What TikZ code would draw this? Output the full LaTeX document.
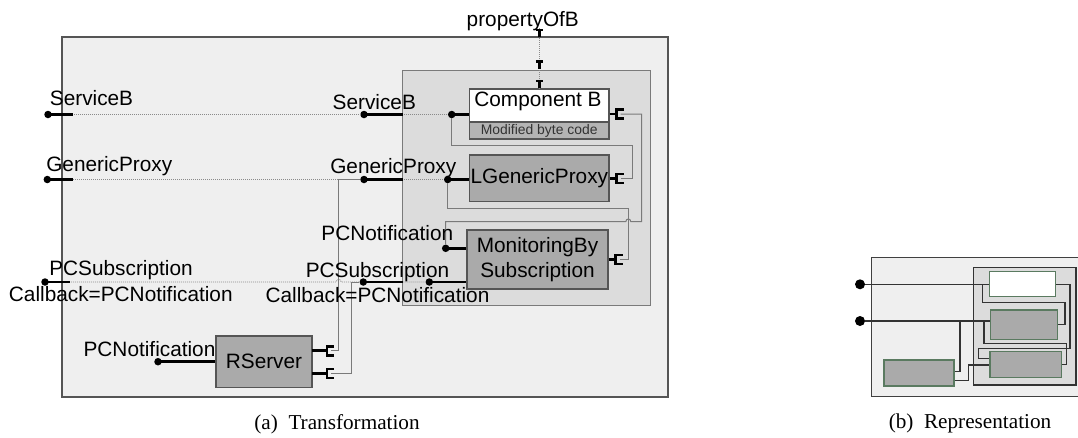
\documentclass[tikz,border=0pt]{standalone}
\usepackage{fontspec}
\setmainfont{Liberation Sans}
\newfontfamily\capfont{Liberation Serif}
\definecolor{outerfill}{HTML}{EFEFEF}
\definecolor{innerfill}{HTML}{DCDCDC}
\definecolor{boxfill}{HTML}{AAAAAA}
\definecolor{bandfill}{HTML}{B4B4B4}
\definecolor{edge}{HTML}{555555}
\definecolor{wirec}{HTML}{7A7A7A}
\definecolor{dotc}{HTML}{8A8A8A}
\definecolor{greenedge}{HTML}{5A7A60}
\definecolor{bwirec}{HTML}{333333}
\begin{document}
\begin{tikzpicture}[x=1pt,y=-1pt,
  lbl/.style={font=\fontsize{20.8}{25}\selectfont, inner sep=0pt, anchor=base},
  caplbl/.style={font=\capfont\fontsize{21.2}{24}\selectfont, inner sep=0pt, anchor=base},
  outerbox/.style={draw=edge, fill=outerfill, line width=1.2pt},
  innerbox/.style={draw=wirec, fill=innerfill, line width=1pt},
  comp/.style={draw=edge, fill=boxfill, line width=1.2pt, inner sep=0pt,
     font=\fontsize{20.8}{25}\selectfont, align=center},
  band/.style={draw=edge, fill=bandfill, line width=1.2pt, inner sep=0pt,
     font=\fontsize{13.9}{16}\selectfont, text=black!80},
  stub/.style={draw=black, line width=2.6pt},
  wire/.style={draw=wirec, line width=1pt},
  dotline/.style={draw=dotc, line width=0.8pt, dash pattern=on 1pt off 1pt},
  sock/.style={circle, fill=black, inner sep=0pt, minimum size=7.5pt},
  bsock/.style={circle, fill=black, inner sep=0pt, minimum size=10pt},
  bbox/.style={draw=greenedge, fill=boxfill, line width=1.3pt, inner sep=0pt},
  bwire/.style={draw=bwirec, line width=1.4pt},
  pics/recept/.style={code={
     \draw[stub] (0,0) -- (#1+1,0);
     \draw[stub] (#1+7,-4.5) -- (#1,-4.5) -- (#1,4.5) -- (#1+7,4.5);
     \coordinate (-end) at (#1+4,0);
  }},
  pics/tprop/.style={code={
     \draw[line width=2.6pt] (-3.4,0) -- (3.4,0);
     \draw[line width=2.6pt] (0,0) -- (0,7);
  }}
]
\useasboundingbox (0,0) rectangle (1078,437);

% ---------------- (a) Transformation ----------------
\draw[outerbox] (62,37) rectangle (668,397);
\draw[innerbox] (402.7,70) rectangle (650,305);

% sockets (provided interfaces)
\node[sock] (sb0) at (48,114.5) {};
\node[sock] (sb1) at (364,114.5) {};
\node[sock] (sb2) at (451.7,114.5) {};
\node[sock] (gp0) at (47.3,179.5) {};
\node[sock] (gp1) at (364,179.5) {};
\node[sock] (gp2) at (447.7,179.5) {};
\node[sock] (pc0) at (45,282) {};
\node[sock] (pc1) at (363.3,282) {};
\node[sock] (pc2) at (429.3,282) {};
\node[sock] (mpn) at (445.7,248.3) {};
\node[sock] (rpn) at (158,361.7) {};

% components
\node[comp, fill=white, minimum width=139.7pt, minimum height=50pt] (compB) at (539.2,114) {};
\node[band, minimum width=139.7pt, minimum height=17pt] (mbc) at (539.2,130.5) {Modified byte code};
\node[lbl] (compBl) at (538,106.5) {Component B};
\node[comp, minimum width=139.3pt, minimum height=46.7pt] (lgp) at (539.3,178.3) {LGenericProxy};
\node[comp, minimum width=141pt, minimum height=59pt] (mon) at (537.5,259.5) {MonitoringBy\\Subscription};
\node[comp, minimum width=96pt, minimum height=51.7pt] (rs) at (264,361.8) {RServer};

% dotted delegation lines
\draw[dotline] (sb0) -- (sb1) -- (sb2);
\draw[dotline] (gp0) -- (gp1) -- (gp2);
\draw[dotline] (pc0) -- (336.2,282) .. controls (336.2,278.4) and (341.2,278.4) .. (341.2,282) -- (pc1) -- (pc2);

% property
\node[lbl] (prop) at (522.8,26) {propertyOfB};
\coordinate (pT) at (539.3,28);
\draw[dotline] (pT) -- (compB.north -| pT);
\pic at (539.3,30) {tprop};
\pic at (539.3,61.7) {tprop};
\pic at (539.3,81) {tprop};

% receptacles (required interfaces)
\pic (cbR) at (compB.east) {recept=7};
\pic (lgR) at (lgp.east) {recept=7};
\pic (mR) at (mon.east) {recept=7};
\pic (rs1) at (312,350.7) {recept=15};
\pic (rs2) at (312,373.3) {recept=15};

% wires
\coordinate (h1) at (0,221.7);
\draw[wire] (cbR-end) -- (641.7,114) -- (641.7,221.7) -- (630.8,221.7)
   .. controls (630.8,218.1) and (625.8,218.1) .. (625.8,221.7) -- (mpn |- h1) -- (mpn);
\draw[wire] (sb2) |- (632.7,145) |- (lgR-end);
\draw[wire] (gp2) |- (628.3,208.3) |- (mR-end);
\draw[wire] (rs1-end) -| (338.7,179.5) -- (gp1);
\draw[wire] (rs2-end) -| (351.7,282) -- (pc1);

% stubs
\draw[stub] (sb0.center) -- (72.7,114.5);
\draw[stub] (sb1.center) -- (403,114.5);
\draw[stub] (sb2.center) -- (sb2 -| compB.west);
\draw[stub] (gp0.center) -- (72.7,179.5);
\draw[stub] (gp1.center) -- (403,179.5);
\draw[stub] (gp2.center) -- (gp2 -| lgp.west);
\draw[stub] (pc0.center) -- (70,282);
\draw[stub] (pc1.center) -- (403,282);
\draw[stub] (pc2.center) -- (pc2 -| mon.west);
\draw[stub] (mpn.center) -- (mpn -| mon.west);
\draw[stub] (rpn.center) -- (rpn -| rs.west);

% labels
\node[lbl] (lsb0) at (91.5,105.5) {ServiceB};
\node[lbl] (lgp0) at (109.3,171.5) {GenericProxy};
\node[lbl] (lsb1) at (374.3,109.5) {ServiceB};
\node[lbl] (lgp1) at (393.3,173.3) {GenericProxy};
\node[lbl] (lpc0) at (121,275) {PCSubscription};
\node[lbl] (lcb0) at (120.8,301) {Callback=PCNotification};
\node[lbl] (lpc1) at (377.5,277.7) {PCSubscription};
\node[lbl] (lcb1) at (377.5,302.3) {Callback=PCNotification};
\node[lbl] (lpn1) at (387.3,240) {PCNotification};
\node[lbl] (lpn2) at (149.5,356.7) {PCNotification};

\node[caplbl] (capA) at (337,429.7) {(a)\enspace Transformation};

% ---------------- (b) Representation ----------------
\draw[outerbox, draw=black!75] (871.7,257.3) rectangle (1095,396.7);
\draw[innerbox, draw=bwirec, line width=1.2pt] (973.3,267.3) rectangle (1076,385);
\node[bsock] (bd1) at (860,284.3) {};
\node[bsock] (bd2) at (860,321) {};
\node[bbox, fill=white, minimum width=66.4pt, minimum height=25pt] (bw1) at (1022.5,284.2) {};
\node[bbox, minimum width=66.6pt, minimum height=29.3pt] (bw2) at (1024,324.65) {};
\node[bbox, minimum width=71.7pt, minimum height=26pt] (bw3) at (1025.85,364.7) {};
\node[bbox, minimum width=70pt, minimum height=26pt] (bw4) at (919,373) {};

\coordinate (bj1) at (982.7,284.3);
\coordinate (bj2) at (984,321);
\coordinate (bj3) at (960,321);
\coordinate (bh1) at (0,358.3);
\coordinate (bh2) at (0,371.7);
\coordinate (bh3) at (0,380.7);
\coordinate (bh4) at (0,365);
\draw[bwire] (bd1) -- (bd1 -| bw1.west);
\draw[bwire] (bd2) -- (bd2 -| bw2.west);
\draw[bwire] (bj1) |- (1065,302.7) |- (bw2.east);
\draw[bwire] (bw1.east) -| (1070,348.3) -- (978.3,348.3) |- (bw3.west |- bh1);
\draw[bwire] (bj2) |- (1066.7,343.3) |- (bw3.east);
\draw[bwire] (bw4.east |- bh2) -| (bj3);
\draw[bwire] (bw4.east |- bh3) -| (968.3,365) -- (bw3.west |- bh4);

\node[caplbl] (capB) at (970,428) {(b)\enspace Representation};
\end{tikzpicture}
\end{document}
